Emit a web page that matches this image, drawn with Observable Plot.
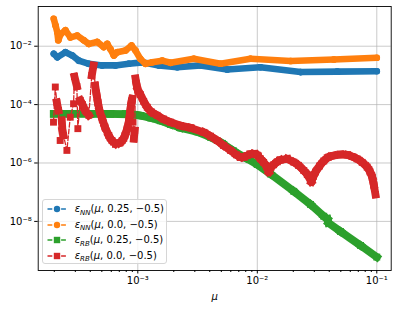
<!DOCTYPE html>
<html><head><meta charset="utf-8">
<script src="https://cdn.jsdelivr.net/npm/d3@7"></script>
<script src="https://cdn.jsdelivr.net/npm/@observablehq/plot@0.6"></script>
<style>
body{margin:0;background:#fff;}
#wrap{position:relative;width:398px;height:309px;font-family:"DejaVu Sans",sans-serif;}
#legend{position:absolute;left:41.7px;top:199.3px;width:125px;height:64.5px;border:1px solid #d6d6d6;border-radius:3px;background:rgba(255,255,255,0.8);box-sizing:border-box;}
.row{position:absolute;left:0;height:14px;width:125px;}
.row svg{position:absolute;left:4px;top:0;}
.row span{position:absolute;left:32px;top:0;font-size:10px;line-height:14px;white-space:nowrap;color:#000;}
.row i{font-style:italic;}
.row sub{font-size:7px;font-style:italic;vertical-align:0;position:relative;top:2.5px;}
</style></head><body><div id="wrap"></div>
<script>
// tick labels / categories
const xMajor = [1e-3, 1e-2, 1e-1];
const yMajor = [1e-2, 1e-4, 1e-6, 1e-8];
const seriesKind = ["NN", "NN", "RB", "RB"];
const seriesParam = ["0.25", "0.0", "0.25", "0.0"];
const seriesColor = ["#1f77b4", "#ff7f0e", "#2ca02c", "#d62728"];
const seriesSymbol = ["circle", "circle", "square", "square"];

// eps_NN(mu, 0.25, -0.5)
const blueMu  = [1.98e-4, 2.12e-4, 2.48e-4, 2.83e-4, 3.21e-4, 3.89e-4, 5.03e-4, 6.50e-4, 8.41e-4, 1.09e-3, 1.50e-3, 2.14e-3, 3.35e-3, 5.60e-3, 1.06e-2, 2.30e-2, 4.67e-2, 1.0e-1];
const blueEps = [5.5e-3, 4.2e-3, 6.2e-3, 4.8e-3, 3.2e-3, 2.5e-3, 2.2e-3, 2.2e-3, 2.5e-3, 2.8e-3, 2.2e-3, 1.9e-3, 2.2e-3, 1.6e-3, 1.9e-3, 1.3e-3, 1.35e-3, 1.38e-3];

// eps_NN(mu, 0.0, -0.5)
const orangeMu  = [1.98e-4, 2.05e-4, 2.12e-4, 2.16e-4, 2.26e-4, 2.48e-4, 2.73e-4, 3.11e-4, 3.53e-4, 3.89e-4, 4.57e-4, 5.19e-4, 5.55e-4, 5.91e-4, 6.30e-4, 6.73e-4, 7.89e-4, 8.86e-4, 9.57e-4, 1.05e-3, 1.16e-3, 1.32e-3, 1.60e-3, 1.88e-3, 2.94e-3, 4.92e-3, 8.77e-3, 1.90e-2, 4.37e-2, 1.0e-1];
const orangeEps = [8.7e-2, 5.1e-2, 3.0e-2, 1.6e-2, 2.6e-2, 3.5e-2, 2.0e-2, 2.3e-2, 1.6e-2, 1.2e-2, 1.4e-2, 9.3e-3, 1.2e-2, 7.9e-3, 4.8e-3, 6.2e-3, 7.1e-3, 1.05e-2, 7.1e-3, 3.7e-3, 2.5e-3, 2.8e-3, 3.2e-3, 2.7e-3, 3.7e-3, 2.5e-3, 3.7e-3, 3.1e-3, 3.5e-3, 4.0e-3];

// eps_RB(mu, 0.25, -0.5)
const greenMu  = [1.98e-4, 2.73e-4, 4.02e-4, 5.91e-4, 7.89e-4, 9.27e-4, 1.05e-3, 1.28e-3, 1.55e-3, 1.88e-3, 2.28e-3, 3.14e-3, 4.06e-3, 5.11e-3, 6.32e-3, 7.97e-3, 9.98e-3, 1.29e-2, 2.02e-2, 2.79e-2, 3.60e-2, 3.87e-2, 3.94e-2, 4.97e-2, 7.31e-2, 1.0e-1];
const greenEps = [4.8e-5, 4.8e-5, 4.8e-5, 4.8e-5, 4.7e-5, 4.5e-5, 4.2e-5, 3.5e-5, 2.8e-5, 2.1e-5, 1.6e-5, 1.17e-5, 7.6e-6, 4.7e-6, 2.6e-6, 1.5e-6, 8.9e-7, 4.2e-7, 1.07e-7, 3.8e-8, 1.5e-8, 1.2e-8, 8.9e-9, 4.5e-9, 1.5e-9, 6.0e-10];

// eps_RB(mu, 0.0, -0.5)
const redMu  = [1.97e-4, 2.04e-4, 2.10e-4, 2.17e-4, 2.24e-4, 2.31e-4, 2.34e-4, 2.39e-4, 2.55e-4, 2.72e-4,
                2.90e-4, 2.95e-4, 3.09e-4, 3.15e-4, 3.30e-4, 3.44e-4, 3.63e-4, 3.89e-4, 4.12e-4, 4.26e-4,
                4.40e-4, 4.51e-4, 4.63e-4, 4.78e-4, 5.04e-4, 5.31e-4, 5.72e-4, 6.08e-4, 6.51e-4, 6.96e-4,
                7.40e-4, 7.81e-4, 8.15e-4, 8.44e-4, 8.57e-4, 8.69e-4, 8.86e-4, 8.98e-4, 9.12e-4, 9.27e-4,
                9.42e-4, 9.57e-4, 9.75e-4, 1.00e-3, 1.05e-3, 1.12e-3, 1.20e-3, 1.30e-3, 1.45e-3, 1.64e-3,
                1.88e-3, 2.28e-3, 2.76e-3, 3.57e-3, 4.06e-3, 4.62e-3, 5.21e-3, 5.97e-3, 6.70e-3, 7.23e-3,
                7.74e-3, 8.22e-3, 8.77e-3, 9.35e-3, 9.98e-3, 1.06e-2, 1.13e-2, 1.20e-2, 1.25e-2, 1.30e-2,
                1.37e-2, 1.47e-2, 1.56e-2, 1.78e-2, 2.02e-2, 2.21e-2, 2.45e-2, 2.62e-2, 2.83e-2, 2.95e-2,
                3.07e-2, 3.32e-2, 3.60e-2, 3.94e-2, 4.37e-2, 4.97e-2, 5.65e-2, 6.22e-2, 6.85e-2, 7.55e-2,
                8.31e-2, 8.77e-2, 9.16e-2, 9.44e-2, 9.75e-2];
const redEps = [2.5e-5, 4.0e-4, 1.2e-4, 6.3e-5, 5.9e-6, 2.9e-5, 1.3e-5, 8.7e-6, 2.7e-6, 3.7e-5,
                1.07e-4, 9.1e-4, 4.2e-4, 1.5e-5, 1.4e-4, 1.0e-4, 6.3e-5, 4.3e-5, 1.0e-3, 2.2e-3,
                4.5e-4, 2.3e-4, 1.2e-4, 6.3e-5, 3.2e-5, 1.7e-5, 8.7e-6, 5.9e-6, 4.6e-6, 4.8e-6,
                5.9e-6, 8.9e-6, 1.5e-5, 2.8e-5, 4.5e-5, 7.2e-5, 1.26e-4, 1.6e-4, 2.5e-5, 6.8e-6,
                1.3e-5, 7.9e-4, 5.0e-4, 3.2e-4, 2.2e-4, 1.3e-4, 8.1e-5, 5.6e-5, 4.3e-5, 3.2e-5,
                2.5e-5, 1.9e-5, 1.6e-5, 1.12e-5, 8.3e-6, 5.9e-6, 4.0e-6, 2.7e-6, 1.9e-6, 1.6e-6,
                1.62e-6, 1.8e-6, 2.0e-6, 2.04e-6, 1.86e-6, 1.4e-6, 1.05e-6, 7.2e-7, 5.0e-7, 7.1e-7,
                8.7e-7, 1.1e-6, 1.26e-6, 1.38e-6, 1.07e-6, 8.3e-7, 5.5e-7, 4.0e-7, 2.3e-7, 3.5e-7,
                4.9e-7, 7.9e-7, 1.17e-6, 1.58e-6, 1.8e-6, 1.95e-6, 1.9e-6, 1.66e-6, 1.38e-6, 1.05e-6,
                7.2e-7, 5.0e-7, 3.2e-7, 1.78e-7, 8.3e-8];

const toPts = (mu, eps) => mu.map((m, i) => ({mu: m, eps: eps[i]}));
const seriesPts = [toPts(blueMu, blueEps), toPts(orangeMu, orangeEps), toPts(greenMu, greenEps), toPts(redMu, redEps)];

const supMap = {"-": "\u207B", "0": "\u2070", "1": "\u00B9", "2": "\u00B2", "3": "\u00B3", "4": "\u2074", "5": "\u2075", "6": "\u2076", "7": "\u2077", "8": "\u2078", "9": "\u2079"};
const fmt = d => "10" + String(Math.round(Math.log10(d))).split("").map(c => supMap[c]).join("");

const xMinor = [];
for (const dec of [1e-4, 1e-3, 1e-2]) for (let k = 2; k <= 9; k++) xMinor.push(k * dec);

// consecutive samples are dense (drawn as a solid band) unless they jump almost vertically
const isDense = ([a, b]) => {
  const dy = Math.abs(Math.log10(b.eps / a.eps));
  const dx = Math.abs(Math.log10(b.mu / a.mu));
  return dy <= 0.38 || dy <= 6 * dx;
};

const marks = [
  Plot.gridX(xMajor, {stroke: "#b0b0b0", strokeOpacity: 0.75, strokeWidth: 0.9}),
  Plot.gridY(yMajor, {stroke: "#b0b0b0", strokeOpacity: 0.75, strokeWidth: 0.9})
];
seriesPts.forEach((pts, i) => {
  const circ = seriesSymbol[i] === "circle";
  const color = seriesColor[i];
  marks.push(Plot.line(pts, {x: "mu", y: "eps", stroke: color, strokeWidth: 1.3, strokeDasharray: "4.8,2"}));
  const pairs = d3.pairs(pts).filter(isDense);
  marks.push(Plot.link(pairs, {
    x1: d => d[0].mu, y1: d => d[0].eps, x2: d => d[1].mu, y2: d => d[1].eps,
    stroke: color, strokeWidth: circ ? 6.6 : 7.8, strokeLinecap: circ ? "round" : "square", strokeLinejoin: "round"
  }));
  marks.push(Plot.dot(pts, {x: "mu", y: "eps", fill: color, r: circ ? 3.3 : 3.9, symbol: seriesSymbol[i]}));
});
marks.push(
  Plot.frame({stroke: "#000", strokeWidth: 0.9}),
  Plot.axisX(xMinor, {tickSize: 2, tickFormat: () => "", label: null}),
  Plot.axisX({ticks: xMajor, tickFormat: fmt, tickSize: 3.5, tickPadding: 3, fontSize: 10, label: null}),
  Plot.axisY({ticks: yMajor, tickFormat: fmt, tickSize: 3.5, tickPadding: 3, fontSize: 10, label: null}),
  Plot.text(["\u03BC"], {frameAnchor: "bottom", dy: 26.5, fontStyle: "italic", fontSize: 10, lineAnchor: "middle"})
);

const chart = Plot.plot({
  width: 398, height: 309,
  marginLeft: 37.7, marginRight: 7.3, marginTop: 6, marginBottom: 39,
  style: {fontFamily: "DejaVu Sans, sans-serif", fontSize: "10px", color: "#000", background: "#fff"},
  x: {type: "log", domain: [1.467e-4, 0.132]},
  y: {type: "log", domain: [2.08e-10, 0.229]},
  marks
});
const wrap = document.getElementById("wrap");
wrap.appendChild(chart);

// legend
const legend = document.createElement("div");
legend.id = "legend";
const rowTops = [2, 17.5, 33, 48.5];
seriesKind.forEach((k, i) => {
  const row = document.createElement("div");
  row.className = "row";
  row.style.top = rowTops[i] + "px";
  const c = seriesColor[i];
  const marker = seriesSymbol[i] === "circle"
    ? `<circle cx="10" cy="7" r="3.2" fill="${c}"/>`
    : `<rect x="6.8" y="3.8" width="6.4" height="6.4" fill="${c}"/>`;
  row.innerHTML = `<svg width="22" height="14"><line x1="0.5" y1="7" x2="20" y2="7" stroke="${c}" stroke-width="1.3" stroke-dasharray="4.8,2"/>${marker}</svg>` +
    `<span><i>\u03B5</i><sub>${k}</sub>(<i>\u03BC</i>, ${seriesParam[i]}, \u22120.5)</span>`;
  legend.appendChild(row);
});
wrap.appendChild(legend);
</script>
</body></html>
